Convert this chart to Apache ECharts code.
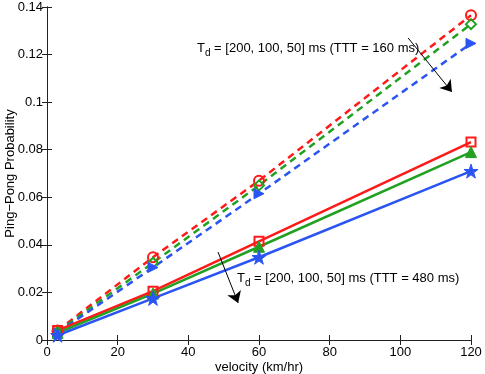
<!DOCTYPE html>
<html>
<head>
<meta charset="utf-8">
<script src="https://cdn.jsdelivr.net/npm/echarts@6/dist/echarts.min.js"></script>
<style>
  html, body { margin: 0; padding: 0; background: #fff; }
  #chart { width: 485px; height: 374px; }
</style>
</head>
<body>
<div id="chart"></div>
<script>
// velocity (km/hr)
var velocity = [3, 30, 60, 120];

// TTT = 160 ms (dashed)
var tttShortRed   = [0.004, 0.0348, 0.0670, 0.1365];
var tttShortGreen = [0.0035, 0.0325, 0.0650, 0.1328];
var tttShortBlue  = [0.003, 0.0305, 0.0615, 0.1247];

// TTT = 480 ms (solid)
var tttLongRed   = [0.004, 0.0205, 0.0415, 0.0832];
var tttLongGreen = [0.003, 0.0195, 0.0392, 0.0790];
var tttLongBlue  = [0.002, 0.0175, 0.0348, 0.0710];

var xTicks = [0, 20, 40, 60, 80, 100, 120];
var yTicks = [0, 0.02, 0.04, 0.06, 0.08, 0.1, 0.12, 0.14];

var RED = '#ff1a1a', GREEN = '#22a022', BLUE = '#2a55f2';
var STAR = 'path://M50,0L61.8,35.5L99,35.5L69,57.5L80.3,93L50,71L19.7,93L31,57.5L1,35.5L38.2,35.5Z';
var TRI_RIGHT = 'path://M0,0L100,50L0,100Z';
var FONT = 'Liberation Sans, Arial, sans-serif';

function pairs(ys) {
  return velocity.map(function (v, i) { return [v, ys[i]]; });
}

function mkSeries(ys, color, dashed, symbol, size, hollow) {
  return {
    type: 'line',
    data: pairs(ys),
    symbol: symbol,
    symbolSize: size,
    showSymbol: true,
    lineStyle: { color: color, width: 2.5, type: dashed ? [7, 5] : 'solid' },
    itemStyle: hollow
      ? { color: 'rgba(255,255,255,0)', borderColor: color, borderWidth: 2 }
      : { color: color, borderColor: color, borderWidth: 1 },
    z: 3,
    animation: false
  };
}

var axisLineStyle = { lineStyle: { color: '#222', width: 1 } };
var tickStyle = { show: true, inside: true, length: 5, lineStyle: { color: '#222' } };
var labelStyle = { color: '#000', fontSize: 13, fontFamily: FONT };

var chart = echarts.init(document.getElementById('chart'));
var arrowSeries = {
  type: 'line',
  data: [],
  silent: true,
  markLine: {
    silent: true,
    symbol: ['none', 'arrow'],
    symbolSize: 11,
    label: { show: false },
    lineStyle: { color: '#000', width: 1, type: 'solid' },
    data: [
      [{ coord: [102.2, 0.127] }, { coord: [114.6, 0.1043] }],
      [{ coord: [48.4, 0.037] }, { coord: [54.1, 0.0156] }]
    ]
  },
  animation: false
};

var subRich = {
  t: { fontSize: 13, color: '#000', fontFamily: FONT },
  s: { fontSize: 10, color: '#000', padding: [9, 0, 0, 0], fontFamily: FONT }
};

chart.setOption({
  backgroundColor: '#fff',
  animation: false,
  grid: { left: 47, right: 14, top: 7, bottom: 34, outerBoundsMode: 'none' },
  xAxis: [{
    type: 'value', min: xTicks[0], max: xTicks[xTicks.length - 1], interval: 20,
    name: 'velocity (km/hr)', nameLocation: 'middle', nameGap: 21, nameMoveOverlap: false,
    nameTextStyle: labelStyle,
    axisLine: axisLineStyle, axisTick: tickStyle,
    axisLabel: Object.assign({ margin: 6 }, labelStyle),
    splitLine: { show: false }
  }, {
    type: 'value', position: 'top', min: xTicks[0], max: xTicks[xTicks.length - 1], interval: 20,
    axisLine: axisLineStyle, axisTick: tickStyle, axisLabel: { show: false }, splitLine: { show: false }
  }],
  yAxis: [{
    type: 'value', min: yTicks[0], max: yTicks[yTicks.length - 1], interval: 0.02,
    name: 'Ping\u2212Pong Probability', nameLocation: 'middle', nameGap: 30, nameMoveOverlap: false,
    nameTextStyle: labelStyle,
    axisLine: { show: true, lineStyle: { color: '#222' } }, axisTick: tickStyle,
    axisLabel: Object.assign({ margin: 4, formatter: function (v) { return String(+v.toFixed(2)); } }, labelStyle),
    splitLine: { show: false }
  }, {
    type: 'value', position: 'right', min: yTicks[0], max: yTicks[yTicks.length - 1], interval: 0.02,
    axisLine: { show: true, lineStyle: { color: '#222' } }, axisTick: tickStyle,
    axisLabel: { show: false }, splitLine: { show: false }
  }],
  series: [
    mkSeries(tttShortRed, RED, true, 'circle', 10, true),
    mkSeries(tttShortGreen, GREEN, true, 'diamond', 10, true),
    mkSeries(tttShortBlue, BLUE, true, TRI_RIGHT, 10, false),
    mkSeries(tttLongRed, RED, false, 'rect', 9, true),
    mkSeries(tttLongGreen, GREEN, false, 'triangle', 11, false),
    mkSeries(tttLongBlue, BLUE, false, STAR, 14, false),
    arrowSeries
  ],
  graphic: [{
    type: 'text', left: 197, top: 42,
    style: { text: '{t|T}{s|d}{t| = [200, 100, 50] ms (TTT = 160 ms)}', rich: subRich }
  }, {
    type: 'text', left: 237, top: 272,
    style: { text: '{t|T}{s|d}{t| = [200, 100, 50] ms (TTT = 480 ms)}', rich: subRich }
  }]
});
</script>
</body>
</html>
